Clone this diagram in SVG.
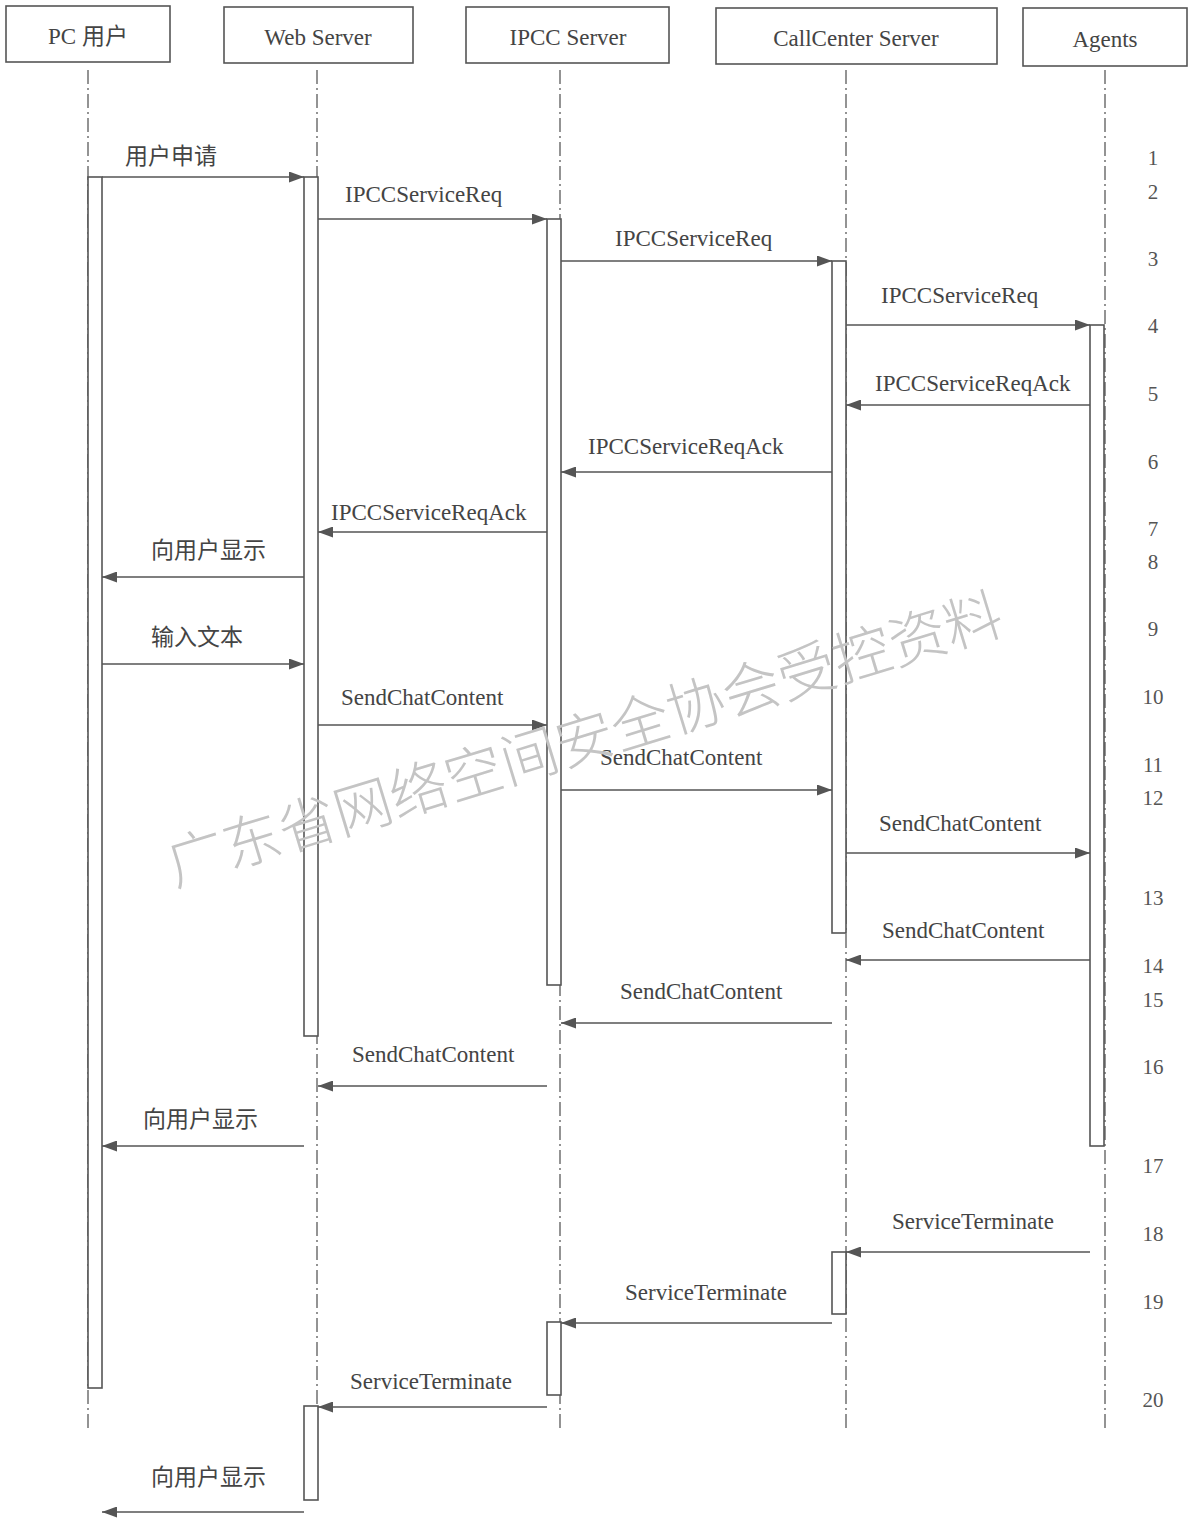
<svg xmlns="http://www.w3.org/2000/svg" width="1191" height="1521" viewBox="0 0 1191 1521">
<style>
.hdr{fill:#fff;stroke:#555;stroke-width:1.6}
.lbl{font-family:"Liberation Serif","Noto Sans CJK SC",serif;font-size:23px;fill:#444}
.hl{font-family:"Liberation Serif","Noto Sans CJK SC",serif;font-size:23px;fill:#444;text-anchor:middle}
.num{font-family:"Liberation Serif",serif;font-size:21px;fill:#555;text-anchor:middle}
.life{stroke:#666;stroke-width:1.4;stroke-dasharray:14 4 2 4;fill:none}
.act{fill:#fff;stroke:#555;stroke-width:1.6}
.msg{stroke:#555;stroke-width:1.6;fill:none;marker-end:url(#ah)}
.wm{font-family:"Noto Sans CJK SC","Noto Sans",sans-serif;font-size:58px;fill:#c4c4c4;font-weight:300;text-anchor:middle}
</style>
<defs>
<marker id="ah" viewBox="0 0 15 11" refX="15" refY="5.5" markerWidth="15" markerHeight="11" markerUnits="userSpaceOnUse" orient="auto">
<path d="M0,0 L15,5.5 L0,11 Z" fill="#555"/>
</marker>
</defs>
<rect width="1191" height="1521" fill="#fff"/>
<g id="lifelines">
<line class="life" x1="88" y1="70" x2="88" y2="1430"/>
<line class="life" x1="317" y1="70" x2="317" y2="1430"/>
<line class="life" x1="560" y1="70" x2="560" y2="1430"/>
<line class="life" x1="846" y1="70" x2="846" y2="1430"/>
<line class="life" x1="1105" y1="70" x2="1105" y2="1430"/>
</g>
<g id="node-pc"><rect class="hdr" x="6" y="6" width="164" height="56"/><text class="hl" x="88" y="44">PC 用户</text></g>
<g id="node-web"><rect class="hdr" x="224" y="7" width="189" height="56"/><text class="hl" x="318" y="45">Web Server</text></g>
<g id="node-ipcc"><rect class="hdr" x="466" y="7" width="203" height="56"/><text class="hl" x="568" y="45">IPCC Server</text></g>
<g id="node-cc"><rect class="hdr" x="716" y="8" width="281" height="56"/><text class="hl" x="856" y="46">CallCenter Server</text></g>
<g id="node-agents"><rect class="hdr" x="1023" y="8" width="164" height="58"/><text class="hl" x="1105" y="47">Agents</text></g>
<g id="activations">
<rect class="act" x="88" y="177" width="14" height="1211"/>
<rect class="act" x="304" y="177" width="14" height="859"/>
<rect class="act" x="547" y="219" width="14" height="766"/>
<rect class="act" x="832" y="261" width="14" height="672"/>
<rect class="act" x="1090" y="325" width="14" height="821"/>
<rect class="act" x="832" y="1252" width="14" height="62"/>
<rect class="act" x="547" y="1322" width="14" height="73"/>
<rect class="act" x="304" y="1406" width="14" height="94"/>
</g>
<g id="connectors">
<line class="msg" x1="102" y1="177" x2="304" y2="177"/>
<line class="msg" x1="318" y1="219" x2="547" y2="219"/>
<line class="msg" x1="561" y1="261" x2="832" y2="261"/>
<line class="msg" x1="846" y1="325" x2="1090" y2="325"/>
<line class="msg" x1="1090" y1="405" x2="846" y2="405"/>
<line class="msg" x1="832" y1="472" x2="561" y2="472"/>
<line class="msg" x1="547" y1="532" x2="318" y2="532"/>
<line class="msg" x1="304" y1="577" x2="102" y2="577"/>
<line class="msg" x1="102" y1="664" x2="304" y2="664"/>
<line class="msg" x1="318" y1="725" x2="547" y2="725"/>
<line class="msg" x1="561" y1="790" x2="832" y2="790"/>
<line class="msg" x1="846" y1="853" x2="1090" y2="853"/>
<line class="msg" x1="1090" y1="960" x2="846" y2="960"/>
<line class="msg" x1="832" y1="1023" x2="561" y2="1023"/>
<line class="msg" x1="547" y1="1086" x2="318" y2="1086"/>
<line class="msg" x1="304" y1="1146" x2="102" y2="1146"/>
<line class="msg" x1="1090" y1="1252" x2="846" y2="1252"/>
<line class="msg" x1="832" y1="1323" x2="561" y2="1323"/>
<line class="msg" x1="547" y1="1407" x2="318" y2="1407"/>
<line class="msg" x1="304" y1="1512" x2="102" y2="1512"/>
</g>
<g id="labels">
<text class="lbl" x="125" y="164">用户申请</text>
<text class="lbl" x="345" y="202">IPCCServiceReq</text>
<text class="lbl" x="615" y="246">IPCCServiceReq</text>
<text class="lbl" x="881" y="303">IPCCServiceReq</text>
<text class="lbl" x="875" y="391">IPCCServiceReqAck</text>
<text class="lbl" x="588" y="454">IPCCServiceReqAck</text>
<text class="lbl" x="331" y="520">IPCCServiceReqAck</text>
<text class="lbl" x="151" y="558">向用户显示</text>
<text class="lbl" x="151" y="645">输入文本</text>
<text class="lbl" x="341" y="705">SendChatContent</text>
<text class="lbl" x="600" y="765">SendChatContent</text>
<text class="lbl" x="879" y="831">SendChatContent</text>
<text class="lbl" x="882" y="938">SendChatContent</text>
<text class="lbl" x="620" y="999">SendChatContent</text>
<text class="lbl" x="352" y="1062">SendChatContent</text>
<text class="lbl" x="143" y="1127">向用户显示</text>
<text class="lbl" x="892" y="1229">ServiceTerminate</text>
<text class="lbl" x="625" y="1300">ServiceTerminate</text>
<text class="lbl" x="350" y="1389">ServiceTerminate</text>
<text class="lbl" x="151" y="1485">向用户显示</text>
</g>
<g id="numbers">
<text class="num" x="1153" y="165">1</text>
<text class="num" x="1153" y="199">2</text>
<text class="num" x="1153" y="266">3</text>
<text class="num" x="1153" y="333">4</text>
<text class="num" x="1153" y="401">5</text>
<text class="num" x="1153" y="469">6</text>
<text class="num" x="1153" y="536">7</text>
<text class="num" x="1153" y="569">8</text>
<text class="num" x="1153" y="636">9</text>
<text class="num" x="1153" y="704">10</text>
<text class="num" x="1153" y="772">11</text>
<text class="num" x="1153" y="805">12</text>
<text class="num" x="1153" y="905">13</text>
<text class="num" x="1153" y="973">14</text>
<text class="num" x="1153" y="1007">15</text>
<text class="num" x="1153" y="1074">16</text>
<text class="num" x="1153" y="1173">17</text>
<text class="num" x="1153" y="1241">18</text>
<text class="num" x="1153" y="1309">19</text>
<text class="num" x="1153" y="1407">20</text>
</g>
<g id="watermark">
<text class="wm" x="585" y="760" transform="rotate(-17 585 740)">广东省网络空间安全协会受控资料</text>
</g>
</svg>
